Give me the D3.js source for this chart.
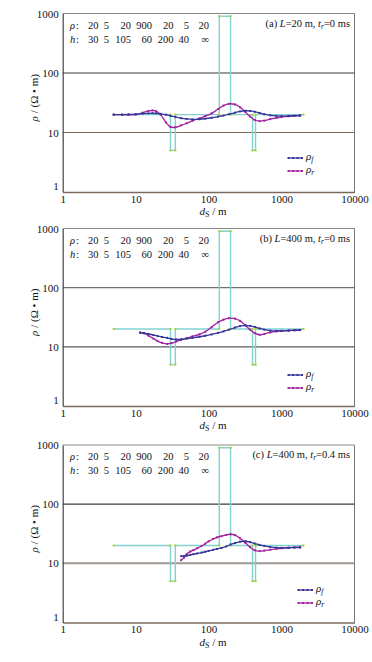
<!DOCTYPE html>
<html>
<head>
<meta charset="utf-8">
<script src="https://cdn.jsdelivr.net/npm/d3@7"></script>
<style>
  body { margin: 0; background: #fff; }
  text { font-family: "Liberation Serif", "DejaVu Serif", serif; fill: #111; }
</style>
</head>
<body>
<svg id="chart"></svg>
<script>
// model of the layered earth
var modelRho = [20, 5, 20, 900, 20, 5, 20];
var modelH = [30, 5, 105, 60, 200, 40];
var modelRhoLabels = ["20", "5", "20", "900", "20", "5", "20"];
var modelHLabels = ["30", "5", "105", "60", "200", "40", "\u221e"];
var modelStart = 5, modelEnd = 2000;

var xTicks = [1, 10, 100, 1000, 10000];
var yTicks = [1, 10, 100, 1000];

// (a) L=20 m, tr=0 ms
var dsA = [5, 6.5, 8, 10, 12.5, 15, 17, 19, 22, 26, 30, 35, 42, 50, 60, 75, 90, 110, 135, 160, 190, 230, 270, 320, 370, 430, 500, 580, 700, 850, 1000, 1250, 1500, 1800];
var rhoFA = [20, 20, 20.1, 20.4, 20.8, 21, 21.1, 21, 20.6, 19.9, 19.1, 18.3, 17.4, 16.9, 16.6, 16.7, 17.1, 17.7, 18.5, 19.3, 20.3, 21.5, 22.6, 23.2, 23, 22.3, 21.3, 20.3, 19.4, 19, 18.9, 19, 19.2, 19.3];
var rhoRA = [20, 19.9, 19.8, 20, 21.5, 23, 23.5, 22.8, 20, 14.8, 12.4, 12.2, 13.2, 14.3, 15.7, 17.3, 18.9, 21, 24.8, 28.3, 30.3, 29.6, 26.5, 22, 18.6, 16.2, 15.5, 15.8, 16.8, 17.6, 18.2, 18.7, 19, 19.3];

// (b) L=400 m, tr=0 ms
var dsB = [11.5, 13, 15, 17.5, 20, 23, 27, 31, 36, 42, 50, 60, 75, 90, 110, 135, 160, 190, 230, 270, 320, 370, 430, 500, 580, 700, 850, 1000, 1250, 1500, 1800];
var rhoFB = [17.2, 17, 16.5, 15.8, 15.2, 14.7, 14.2, 13.6, 13.3, 13.4, 13.8, 14.2, 14.8, 15.4, 16.2, 17.2, 18.2, 19.5, 21.2, 22.4, 23, 22.6, 21.7, 20.5, 19.5, 18.8, 18.6, 18.6, 18.8, 19, 19.2];
var rhoRB = [17.5, 17, 15.5, 13.8, 12.5, 11.7, 11.2, 11.5, 12.3, 13.2, 14, 15, 16.3, 18, 21.5, 26, 28.8, 30.5, 30, 27.5, 23, 19.5, 17, 16, 16.5, 17.5, 18.2, 18.6, 18.9, 19.1, 19.3];

// (c) L=400 m, tr=0.4 ms
var dsC = [42, 46, 50, 56, 62, 70, 80, 90, 100, 115, 130, 150, 175, 200, 230, 270, 320, 370, 430, 500, 580, 700, 850, 1000, 1250, 1500, 1800];
var rhoFC = [13.2, 13.3, 13.5, 13.9, 14.3, 14.7, 15.2, 15.7, 16.2, 16.9, 17.5, 18.2, 19.3, 20.8, 22, 23.2, 23.6, 22.8, 21.6, 20.5, 19.7, 18.9, 18.4, 18.3, 18.3, 18.4, 18.5];
var rhoRC = [11.3, 12.5, 14.3, 15.8, 16.7, 18, 19.6, 21.5, 23.5, 25.8, 27.5, 28.8, 30.2, 31, 30, 26.5, 22.2, 18.8, 16.6, 16.1, 16.4, 17, 17.6, 18, 18.4, 18.7, 19];

var panels = [
  { top: 13.5, bottom: 192, tag: "(a) ", L: "=20 m, ", tr: "=0 ms", ds: dsA, f: rhoFA, r: rhoRA,
    grid100: "#3a3a3a", grid10: "#7d6a5c", w10: 1.2, legendX: 288, legendY: 158 },
  { top: 228.5, bottom: 406, tag: "(b) ", L: "=400 m, ", tr: "=0 ms", ds: dsB, f: rhoFB, r: rhoRB,
    grid100: "#707070", grid10: "#5a5a5a", w10: 1.2, legendX: 288, legendY: 375 },
  { top: 445, bottom: 622.5, tag: "(c) ", L: "=400 m, ", tr: "=0.4 ms", ds: dsC, f: rhoFC, r: rhoRC,
    grid100: "#3a3a3a", grid10: "#a09890", w10: 2, legendX: 298, legendY: 590 }
];

var svgWidth = 372, svgHeight = 662;
var left = 62.7, right = 354.5;
var blue = "#35359a", magenta = "#a3229e", cyan = "#82d2d2", green = "#a8d028";

var svg = d3.select("#chart").attr("width", svgWidth).attr("height", svgHeight);

var x = d3.scaleLog().domain([1, 10000]).range([left, right]);

// model step outline
var depths = [];
modelH.reduce(function (acc, h) { acc += h; depths.push(acc); return acc; }, 0);
var stepPts = [[modelStart, modelRho[0]]];
depths.forEach(function (d, i) {
  stepPts.push([d, modelRho[i]]);
  stepPts.push([d, modelRho[i + 1]]);
});
stepPts.push([modelEnd, modelRho[modelRho.length - 1]]);

var colX = [98.5, 109, 131, 152, 173.5, 189, 209];

panels.forEach(function (p) {
  var y = d3.scaleLog().domain([1, 1000]).range([p.bottom, p.top]);
  var g = svg.append("g");

  // frame
  g.append("line").attr("x1", left).attr("x2", right).attr("y1", p.top).attr("y2", p.top)
    .attr("stroke", "#888").attr("stroke-width", 1);
  g.append("line").attr("x1", right).attr("x2", right).attr("y1", p.top).attr("y2", p.bottom)
    .attr("stroke", "#777").attr("stroke-width", 1);

  // grid lines
  g.append("line").attr("x1", left).attr("x2", right).attr("y1", y(100)).attr("y2", y(100))
    .attr("stroke", p.grid100).attr("stroke-width", 1.2);
  g.append("line").attr("x1", left).attr("x2", right).attr("y1", y(10)).attr("y2", y(10))
    .attr("stroke", p.grid10).attr("stroke-width", p.w10);

  // axes
  var bottomAxis = d3.axisBottom(x).tickValues(xTicks).tickSize(0).tickPadding(3).tickFormat(d3.format("d"));
  var gx = g.append("g").attr("transform", "translate(0," + p.bottom + ")").call(bottomAxis);
  gx.select(".domain").attr("stroke", "#7d6a5c").attr("stroke-width", 1.3);
  gx.selectAll("text").attr("font-size", 11).attr("font-family", "Liberation Serif").attr("fill", "#111");

  var leftAxis = d3.axisLeft(y).tickValues(yTicks).tickSize(0).tickPadding(4).tickFormat(d3.format("d"));
  var gy = g.append("g").attr("transform", "translate(" + left + ",0)").call(leftAxis);
  gy.select(".domain").attr("stroke", "#444").attr("stroke-width", 1.2);
  gy.selectAll("text").attr("font-size", 11).attr("font-family", "Liberation Serif").attr("fill", "#111")
    .attr("dy", function (d) { return d === 1 ? "-0.2em" : "0.32em"; });

  // model line
  var line = d3.line().x(function (d) { return x(d[0]); }).y(function (d) { return y(d[1]); });
  g.append("path").datum(stepPts).attr("d", line).attr("fill", "none")
    .attr("stroke", cyan).attr("stroke-width", 1.4);
  g.selectAll(".vtx").data(stepPts).enter().append("rect")
    .attr("x", function (d) { return x(d[0]) - 1; })
    .attr("y", function (d) { return y(d[1]) - 1; })
    .attr("width", 2).attr("height", 2).attr("fill", green);

  // apparent resistivity curves
  var curve = d3.line().curve(d3.curveCatmullRom)
    .x(function (d) { return x(d[0]); }).y(function (d) { return y(d[1]); });
  [[p.r, magenta], [p.f, blue]].forEach(function (s) {
    var pts = p.ds.map(function (d, i) { return [d, s[0][i]]; });
    g.append("path").datum(pts).attr("d", curve).attr("fill", "none")
      .attr("stroke", s[1]).attr("stroke-width", 1.3);
    g.selectAll(null).data(pts).enter().append("rect")
      .attr("x", function (d) { return x(d[0]) - 1; })
      .attr("y", function (d) { return y(d[1]) - 1; })
      .attr("width", 2).attr("height", 2).attr("fill", s[1]);
  });

  // annotation
  var ann = g.append("text").attr("x", 350).attr("y", p.top + 13).attr("text-anchor", "end").attr("font-size", 10.5);
  ann.append("tspan").text(p.tag);
  ann.append("tspan").attr("font-style", "italic").text("L");
  ann.append("tspan").text(p.L);
  ann.append("tspan").attr("font-style", "italic").text("t");
  ann.append("tspan").attr("font-style", "italic").attr("font-size", 7.5).attr("dy", 2).text("r");
  ann.append("tspan").attr("dy", -2).text(p.tr);

  // model table
  var rows = [["\u03c1", modelRhoLabels, p.top + 15], ["h", modelHLabels, p.top + 29]];
  rows.forEach(function (row) {
    g.append("text").attr("x", 70).attr("y", row[2]).attr("font-size", 10.5)
      .attr("font-style", "italic").text(row[0]);
    g.append("text").attr("x", 76).attr("y", row[2]).attr("font-size", 10.5).text(":");
    row[1].forEach(function (t, i) {
      g.append("text").attr("x", colX[i]).attr("y", row[2]).attr("font-size", 10.5)
        .attr("text-anchor", "end").text(t);
    });
  });

  // legend
  [["f", blue, 0], ["r", magenta, 13]].forEach(function (l) {
    var ly = p.legendY + l[2];
    g.append("line").attr("x1", p.legendX).attr("x2", p.legendX + 14).attr("y1", ly).attr("y2", ly)
      .attr("stroke", l[1]).attr("stroke-width", 1.3);
    [0, 4.5, 9, 13.5].forEach(function (o) {
      g.append("rect").attr("x", p.legendX + o - 0.5).attr("y", ly - 1).attr("width", 2).attr("height", 2).attr("fill", l[1]);
    });
    var lt = g.append("text").attr("x", p.legendX + 18).attr("y", ly + 2).attr("font-size", 11).attr("font-style", "italic");
    lt.append("tspan").text("\u03c1");
    lt.append("tspan").attr("font-size", 7.5).attr("dy", 2).text(l[0]);
  });

  // axis titles
  var yt = g.append("text").attr("transform", "translate(38," + ((p.top + p.bottom) / 2 - 5) + ") rotate(-90)")
    .attr("text-anchor", "middle").attr("font-size", 11);
  yt.append("tspan").attr("font-style", "italic").text("\u03c1");
  yt.append("tspan").text(" / (\u03a9 \u2022 m)");

  var xt = g.append("text").attr("x", 213).attr("y", p.bottom + 23).attr("text-anchor", "middle").attr("font-size", 11);
  xt.append("tspan").attr("font-style", "italic").text("d");
  xt.append("tspan").attr("font-size", 8).attr("dy", 2).text("S");
  xt.append("tspan").attr("dy", -2).text(" / m");
});
</script>
</body>
</html>
